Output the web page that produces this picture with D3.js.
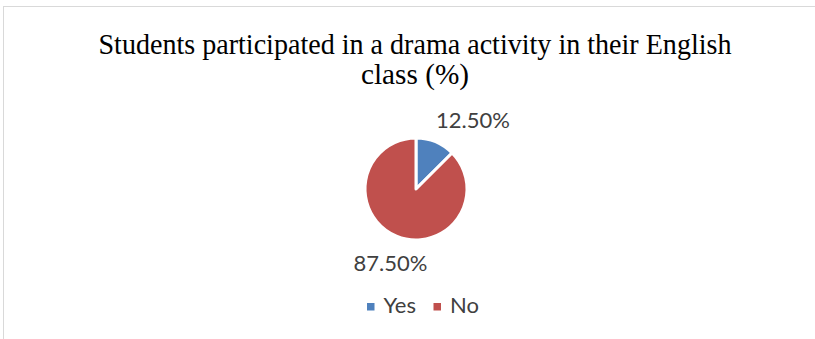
<!DOCTYPE html>
<html>
<head>
<meta charset="utf-8">
<script src="https://cdn.jsdelivr.net/npm/d3@7"></script>
<style>
  html, body { margin: 0; padding: 0; background: #fff; }
  svg { display: block; }
</style>
</head>
<body>
<svg id="chart" width="815" height="339"></svg>
<script>
// Survey answers and their shares (%)
const categories = ["Yes", "No"];
const shares = [12.5, 87.5];
const sliceColors = ["#4F81BD", "#C0504D"];
const titleLines = ["Students participated in a drama activity in their English", "class (%)"];

const svg = d3.select("#chart");
const W = 815, H = 339;

// chart frame
svg.append("rect")
  .attr("x", 3.5).attr("y", 6.5)
  .attr("width", W + 10).attr("height", H + 10)
  .attr("fill", "#fff")
  .attr("stroke", "#d9d9d9").attr("stroke-width", 1);

// title (two lines, slightly condensed serif)
const title = svg.append("text")
  .attr("text-anchor", "middle")
  .attr("font-family", "'Liberation Serif', 'Times New Roman', serif")
  .attr("font-size", 29)
  .attr("fill", "#000");
const titleWidths = [633, 108];
const titleBase = [53.5, 84];
titleLines.forEach((t, i) => {
  title.append("tspan")
    .attr("x", 415).attr("y", titleBase[i])
    .attr("textLength", titleWidths[i])
    .attr("lengthAdjust", "spacingAndGlyphs")
    .text(t);
});

// pie
const cx = 416, cy = 189, r = 51;
const data = categories.map((c, i) => ({ cat: c, value: shares[i] }));
const pie = d3.pie().value(d => d.value).sort(null);
const arc = d3.arc().innerRadius(0).outerRadius(r);
const color = d3.scaleOrdinal().domain(categories).range(sliceColors);
const arcs = pie(data);

const g = svg.append("g").attr("transform", `translate(${cx},${cy})`);
g.selectAll("path").data(arcs).join("path")
  .attr("d", arc)
  .attr("fill", d => color(d.data.cat))
  .attr("stroke", "#fff")
  .attr("stroke-width", 3)
  .attr("stroke-linejoin", "round");

// percentage labels outside the slices
const labelFont = "Lato, 'Open Sans', 'Liberation Sans', sans-serif";
const labelPos = [
  { x: 473, y: 128 },
  { x: 390.5, y: 271 }
];
svg.selectAll("text.pct").data(arcs).join("text")
  .attr("class", "pct")
  .attr("x", (d, i) => labelPos[i].x)
  .attr("y", (d, i) => labelPos[i].y)
  .attr("text-anchor", "middle")
  .attr("font-family", labelFont)
  .attr("font-size", 22)
  .attr("fill", "#404040")
  .text(d => d3.format(".2f")(d.data.value) + "%");

// legend
const legend = svg.append("g");
const legendX = [367, 433.5];
categories.forEach((c, i) => {
  legend.append("rect")
    .attr("x", legendX[i]).attr("y", 303)
    .attr("width", 7.5).attr("height", 7.5)
    .attr("fill", color(c));
  legend.append("text")
    .attr("x", legendX[i] + 16.5).attr("y", 313.3)
    .attr("font-family", labelFont)
    .attr("font-size", 22)
    .attr("fill", "#404040")
    .text(c);
});
</script>
</body>
</html>
